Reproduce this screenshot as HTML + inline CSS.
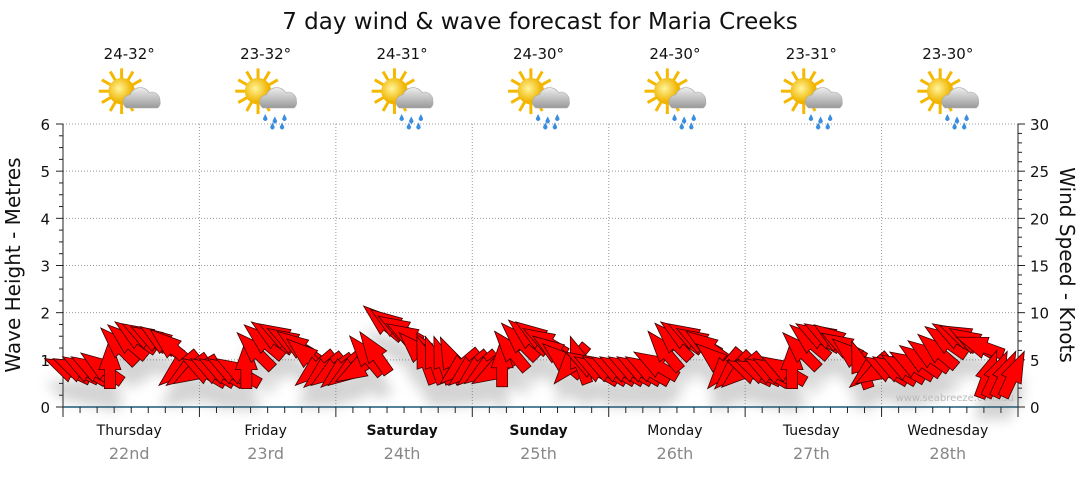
<!DOCTYPE html>
<html><head><meta charset="utf-8"><style>
body{margin:0;background:#fff;font-family:"DejaVu Sans",sans-serif}
svg text{font-family:"DejaVu Sans","Liberation Sans",sans-serif}
</style></head><body>
<svg id="c" width="1080" height="475" xmlns="http://www.w3.org/2000/svg">
<defs>
<filter id="sh" x="-50%" y="-50%" width="200%" height="200%"><feGaussianBlur stdDeviation="6"/></filter>
<radialGradient id="sun" cx="0.4" cy="0.4"><stop offset="0" stop-color="#fff59a"/><stop offset="1" stop-color="#f0b400"/></radialGradient>
<linearGradient id="cl" x1="0" y1="0" x2="0" y2="1"><stop offset="0" stop-color="#eee"/><stop offset="1" stop-color="#999"/></linearGradient>
</defs>
<text x="540" y="29" font-size="23" text-anchor="middle" fill="#111">7 day wind &amp; wave forecast for Maria Creeks</text>
<g id="grid"></g><g id="axes"></g><g id="shadow" filter="url(#sh)" opacity="0.25"></g>
<text x="1014" y="401" font-size="10" text-anchor="end" fill="#bbb">www.seabreeze.com.au</text>
<g id="arrows"></g><g id="days"></g>
<text transform="translate(20,265) rotate(-90)" font-size="20" text-anchor="middle" fill="#111">Wave Height - Metres</text>
<text transform="translate(1060,265) rotate(90)" font-size="20" text-anchor="middle" fill="#111">Wind Speed - Knots</text>
</svg>
<script>
const dayNames=["Thursday","Friday","Saturday","Sunday","Monday","Tuesday","Wednesday"];
const dayDates=["22nd","23rd","24th","25th","26th","27th","28th"];
const temps=["24-32°","23-32°","24-31°","24-30°","24-30°","23-31°","23-30°"];
const rain=[false,true,true,true,true,true,true];
const waveTicks=[0,1,2,3,4,5,6];
const windTicks=[0,5,10,15,20,25,30];
const windSpeed=[4,4,4,4,4.2,4.6,6.5,7,7.5,7.5,7.2,7,6.5,4,3.8,3.8,
3.8,3.8,3.8,3.8,3.8,4.6,6,7,7.5,7.5,7,6.5,5.5,4,3.8,3.8,
3.8,3.8,4,5.5,5.8,9,8.8,8.3,7.5,6,5,5,5,5,4.2,4,
4,4,3.8,4.8,6,7,7.5,7.5,7,6,5,4.5,5,4.5,4,4,
4,4,4,4,4,4.5,6,7,7.5,7.5,7,6.5,5,4,3.8,3.8,
3.8,3.8,3.8,3.8,4,4.6,6,7,7.5,7.5,7.2,6.5,5.5,4.5,3.8,3.8,
4,4,4.2,4.5,5,5.5,6,7,7.5,7.5,7,6.5,3.5,3.5,3.5,3.5];
const windDir=[-65,-65,-60,-60,-55,0,-45,-50,-55,-60,-60,-55,-50,-130,-125,-120,
-60,-60,-60,-60,-60,0,-45,-50,-55,-60,-60,-55,-50,-130,-130,-125,
-130,-125,-120,-40,-35,-50,-55,-60,-60,-45,-20,-20,-20,-25,-130,-130,
-130,-125,-120,0,-40,-45,-50,-55,-60,-55,-50,-140,-20,-60,-60,-60,
-60,-60,-60,-60,-60,-60,-40,-45,-55,-60,-60,-55,-50,-140,-135,-130,
-65,-65,-60,-60,-60,0,-45,-50,-60,-60,-55,-60,-50,-20,-130,-120,
-60,-60,-60,-60,-55,-55,-50,-55,-60,-65,-60,-70,20,25,25,25];
const X0=63,X1=1018,Y0=407,Y1=124,N=windSpeed.length;
const xs=i=>X0+(i+0.5)*(X1-X0)/N;
const yW=m=>Y0-m*(Y0-Y1)/6;
const yK=k=>Y0-k*(Y0-Y1)/30;
const dayX=d=>X0+d*(X1-X0)/7;
const NS="http://www.w3.org/2000/svg";
function mk(t,a,p){const e=document.createElementNS(NS,t);for(const k in a)e.setAttribute(k,a[k]);p.appendChild(e);return e;}
const grid=document.getElementById('grid'),axes=document.getElementById('axes'),days=document.getElementById('days');
waveTicks.forEach(v=>{if(v>0){const l=mk('line',{x1:X0,x2:X1,y1:yW(v),y2:yW(v),stroke:'#999','stroke-dasharray':'1,2'},grid);}
const t=mk('text',{x:50,y:yW(v)+6,'font-size':15,'text-anchor':'end',fill:'#111'},axes);t.textContent=v;
});
windTicks.forEach(v=>{const t=mk('text',{x:1030,y:yK(v)+6,'font-size':15,fill:'#111'},axes);t.textContent=v;
});
for(let i=0;i<=24;i++){const y=yW(i/4);mk('line',{x1:X0-(i%4?4:7),x2:X0,y1:y,y2:y,stroke:'#222'},axes);}
for(let k=0;k<=30;k++){const y=yK(k);mk('line',{x1:X1,x2:X1+(k%5?4:7),y1:y,y2:y,stroke:'#222'},axes);}
mk('line',{x1:X0,x2:X0,y1:Y1,y2:Y0,stroke:'#222'},axes);
mk('line',{x1:X1,x2:X1,y1:Y1,y2:Y0,stroke:'#222'},axes);
mk('line',{x1:X0,x2:X1,y1:Y0,y2:Y0,stroke:'#1a5a7a','stroke-width':1.5},axes);
for(let j=0;j<=56;j++){const x=X0+j*(X1-X0)/56;mk('line',{x1:x,x2:x,y1:Y0,y2:Y0+(j%8?6:10),stroke:'#222'},axes);}
for(let d=0;d<7;d++){
 if(d>0){const l=mk('line',{x1:dayX(d),x2:dayX(d),y1:Y1,y2:Y0,stroke:'#999','stroke-dasharray':'1,2'},grid);}
 const cx=(dayX(d)+dayX(d+1))/2;
 const n=mk('text',{x:cx-2,y:435,'font-size':14,'text-anchor':'middle',fill:'#111','font-weight':(d==2||d==3)?'bold':'normal'},days);n.textContent=dayNames[d];
 
 const dt=mk('text',{x:cx-2,y:459,'font-size':16,'text-anchor':'middle',fill:'#888'},days);dt.textContent=dayDates[d];
 
 const tt=mk('text',{x:cx-2,y:59,'font-size':15,'text-anchor':'middle',fill:'#111'},days);tt.textContent=temps[d];
 
 const g=mk('g',{transform:`translate(${cx},96) scale(1.2)`},days);
 
 for(let r=0;r<12;r++){const a=r*Math.PI/6;mk('line',{x1:-8+Math.cos(a)*10,y1:-4+Math.sin(a)*10,x2:-8+Math.cos(a)*19,y2:-4+Math.sin(a)*19,stroke:'#f5b800','stroke-width':2.5},g);}
 mk('circle',{cx:-8,cy:-4,r:11,fill:'url(#sun)'},g);
 mk('path',{d:'M-4 10 a6 6 0 0 1 3-11 a9 9 0 0 1 16-2 a7 7 0 0 1 9 7 a6 6 0 0 1-2 6 z',fill:'url(#cl)',stroke:'#aaa','stroke-width':0.5},g);
 if(rain[d])[[-2,15],[6,17],[14,15],[4,22],[12,22]].forEach(p=>mk('path',{d:`M${p[0]} ${p[1]} l-1.5 3 a1.8 1.8 0 1 0 3 0 z`,fill:'#3a8ee0'},g));
}
const ap='M0 -25 L11 6 L5.5 6 L5.5 25 L-5.5 25 L-5.5 6 L-11 6 Z';
const arr=document.getElementById('arrows'),sh=document.getElementById('shadow');
for(let i=0;i<N;i++){
 mk('path',{d:ap,fill:'#555',transform:`translate(${xs(i)},${yK(windSpeed[i])+22}) rotate(${windDir[i]})`},sh);
 const p=mk('path',{d:ap,fill:'#ff0000',stroke:'#3a0000','stroke-width':0.8,transform:`translate(${xs(i)},${yK(windSpeed[i])}) rotate(${windDir[i]})`},arr);
 
 
}
</script>
</body></html>
